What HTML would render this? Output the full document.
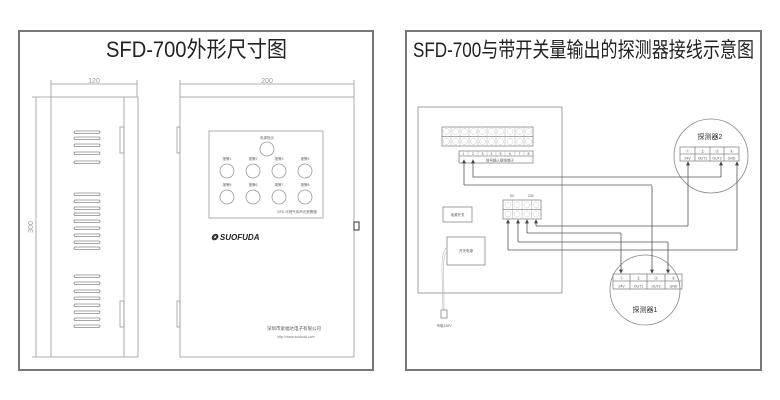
<!DOCTYPE html>
<html><head><meta charset="utf-8"><style>
html,body{margin:0;padding:0;background:#fff;width:780px;height:400px;overflow:hidden}
svg{display:block}
text{font-family:"Liberation Sans","Noto Sans CJK SC",sans-serif}
</style></head><body>
<svg width="780" height="400" viewBox="0 0 780 400" xmlns="http://www.w3.org/2000/svg">
<defs>
<marker id="ar" viewBox="0 0 6 6" refX="5" refY="3" markerWidth="5" markerHeight="5" orient="auto"><path d="M0,0 L6,3 L0,6z" fill="#444"/></marker>
</defs>
<g fill="none" stroke="#777" stroke-width="2">
<rect x="19" y="31" width="354" height="339"/>
<rect x="406" y="31" width="355" height="339"/>
</g>
<text x="106" y="57" font-size="22" textLength="181" lengthAdjust="spacingAndGlyphs" fill="#222">SFD-700外形尺寸图</text>
<text x="413" y="57" font-size="21" textLength="341" lengthAdjust="spacingAndGlyphs" fill="#222">SFD-700与带开关量输出的探测器接线示意图</text>

<!-- LEFT -->
<g stroke="#999" stroke-width="0.8" fill="none">
<line x1="51" y1="84" x2="137" y2="84"/><line x1="51" y1="80" x2="51" y2="97"/><line x1="137" y1="80" x2="137" y2="97"/>
<line x1="180" y1="84" x2="354" y2="84"/><line x1="180" y1="80" x2="180" y2="97"/><line x1="354" y1="80" x2="354" y2="97"/>
<line x1="36" y1="97" x2="36" y2="357"/><line x1="32" y1="97" x2="51" y2="97"/><line x1="32" y1="357" x2="51" y2="357"/>
<rect x="51" y="97" width="87" height="260"/>
<line x1="124" y1="97" x2="124" y2="357"/>
<rect x="120" y="127" width="4" height="26"/><rect x="120" y="301" width="4" height="26"/>
<rect x="180" y="97" width="174" height="260"/>
<rect x="177" y="127" width="3" height="26"/><rect x="177" y="301" width="3" height="26"/>
<rect x="209" y="131" width="114" height="87"/>
<circle cx="267" cy="149" r="7"/>
<circle cx="227" cy="171" r="7"/><circle cx="253" cy="171" r="7"/><circle cx="279" cy="171" r="7"/><circle cx="305" cy="171" r="7"/>
<circle cx="227" cy="197" r="7"/><circle cx="253" cy="197" r="7"/><circle cx="279" cy="197" r="7"/><circle cx="305" cy="197" r="7"/>
</g>
<rect x="354" y="222" width="5" height="8" fill="none" stroke="#333" stroke-width="1"/>
<g fill="none" stroke="#888" stroke-width="0.8">
<rect x="74" y="131" width="26" height="2.5" rx="1.2"/><rect x="74" y="137" width="26" height="2.5" rx="1.2"/><rect x="74" y="144" width="26" height="2.5" rx="1.2"/><rect x="74" y="152" width="26" height="2.5" rx="1.2"/><rect x="74" y="161" width="26" height="2.5" rx="1.2"/>
<rect x="74" y="193" width="26" height="2.5" rx="1.2"/><rect x="74" y="200" width="26" height="2.5" rx="1.2"/><rect x="74" y="207" width="26" height="2.5" rx="1.2"/><rect x="74" y="213" width="26" height="2.5" rx="1.2"/><rect x="74" y="220" width="26" height="2.5" rx="1.2"/><rect x="74" y="227" width="26" height="2.5" rx="1.2"/><rect x="74" y="234" width="26" height="2.5" rx="1.2"/><rect x="74" y="241" width="26" height="2.5" rx="1.2"/><rect x="74" y="247" width="26" height="2.5" rx="1.2"/>
<rect x="74" y="275" width="26" height="2.5" rx="1.2"/><rect x="74" y="282" width="26" height="2.5" rx="1.2"/><rect x="74" y="290" width="26" height="2.5" rx="1.2"/><rect x="74" y="297" width="26" height="2.5" rx="1.2"/><rect x="74" y="304" width="26" height="2.5" rx="1.2"/><rect x="74" y="311" width="26" height="2.5" rx="1.2"/><rect x="74" y="318" width="26" height="2.5" rx="1.2"/><rect x="74" y="325" width="26" height="2.5" rx="1.2"/>
</g>
<g font-size="7" fill="#999" text-anchor="middle">
<text x="94" y="83">120</text><text x="267" y="83">200</text>
<text x="33" y="227" transform="rotate(-90 33 227)">300</text>
</g>
<g font-size="3.5" fill="#666" text-anchor="middle">
<text x="267" y="139">电源指示</text>
<text x="227" y="160">报警1</text><text x="253" y="160">报警2</text><text x="279" y="160">报警3</text><text x="305" y="160">报警4</text>
<text x="227" y="186">报警5</text><text x="253" y="186">报警6</text><text x="279" y="186">报警7</text><text x="305" y="186">报警8</text>
<text x="297" y="213">SFD 可燃气体声光报警器</text>
</g>
<text x="211" y="240" font-size="8" font-weight="bold" font-style="italic" fill="#222">❂ SUOFUDA</text>
<text x="294" y="330" font-size="4.5" fill="#555" text-anchor="middle">深圳市索福达电子有限公司</text>
<text x="296" y="338" font-size="3.5" fill="#777" text-anchor="middle">http://www.suofuda.com</text>

<!-- RIGHT -->
<g stroke="#888" stroke-width="0.8" fill="none">
<rect x="418" y="107" width="144" height="186"/>
<rect x="442" y="127" width="91" height="19"/>
<line x1="442" y1="136.5" x2="533" y2="136.5"/>
<rect x="459" y="151" width="74" height="12"/>
<line x1="459" y1="156" x2="533" y2="156"/>
<rect x="503" y="200" width="38" height="19"/>
<line x1="503" y1="209.5" x2="541" y2="209.5"/>
<rect x="443" y="207" width="29" height="15"/>
<rect x="447" y="237" width="38" height="28"/>
<circle cx="711" cy="156" r="37" fill="#fff"/>
<rect x="680" y="147" width="59" height="14"/><line x1="680" y1="154" x2="739" y2="154"/>
<line x1="695" y1="147" x2="695" y2="161"/><line x1="710" y1="147" x2="710" y2="161"/><line x1="724" y1="147" x2="724" y2="161"/>
<circle cx="645" cy="290" r="35" fill="#fff"/>
<rect x="613" y="274" width="69" height="15"/><line x1="613" y1="281" x2="682" y2="281"/>
<line x1="630" y1="274" x2="630" y2="289"/><line x1="647" y1="274" x2="647" y2="289"/><line x1="665" y1="274" x2="665" y2="289"/>
<rect x="441" y="310" width="6" height="8"/>
</g>
<g stroke="#aaa" stroke-width="0.5" fill="none">
<path d="M451,127v19M460,127v19M469,127v19M478,127v19M487,127v19M496,127v19M505,127v19M515,127v19M524,127v19"/>
<path d="M468,151v5M478,151v5M487,151v5M496,151v5M505,151v5M515,151v5M524,151v5"/>
<path d="M512.5,200v19M522,200v19M531.5,200v19"/>
<path d="M447,247 C440,255 442,265 443,310 M447,251 C442,258 444,266 444,310"/>
</g>
<g stroke="#bbb" stroke-width="0.4" fill="none">
<circle cx="446.5" cy="131.5" r="3"/><circle cx="455.5" cy="131.5" r="3"/><circle cx="464.5" cy="131.5" r="3"/><circle cx="473.5" cy="131.5" r="3"/><circle cx="482.5" cy="131.5" r="3"/><circle cx="491.5" cy="131.5" r="3"/><circle cx="500.5" cy="131.5" r="3"/><circle cx="510" cy="131.5" r="3"/><circle cx="519.5" cy="131.5" r="3"/><circle cx="528.5" cy="131.5" r="3"/>
<circle cx="446.5" cy="141.5" r="3"/><circle cx="455.5" cy="141.5" r="3"/><circle cx="464.5" cy="141.5" r="3"/><circle cx="473.5" cy="141.5" r="3"/><circle cx="482.5" cy="141.5" r="3"/><circle cx="491.5" cy="141.5" r="3"/><circle cx="500.5" cy="141.5" r="3"/><circle cx="510" cy="141.5" r="3"/><circle cx="519.5" cy="141.5" r="3"/><circle cx="528.5" cy="141.5" r="3"/>
<circle cx="508" cy="205" r="3"/><circle cx="517" cy="205" r="3"/><circle cx="527" cy="205" r="3"/><circle cx="536" cy="205" r="3"/>
<circle cx="508" cy="214" r="3"/><circle cx="517" cy="214" r="3"/><circle cx="527" cy="214" r="3"/><circle cx="536" cy="214" r="3"/>
</g>
<g stroke="#555" stroke-width="0.8" fill="none" marker-end="url(#ar)">
<path d="M464,185 V160"/>
<path d="M473,175 V160"/>
<path d="M652,186 V273"/>
<path d="M721,177 V162"/>
<path d="M688,226 V162"/>
<path d="M621,233 V273"/>
<path d="M668,242 V273"/>
<path d="M737,250 V162"/>
<path d="M508,250 V220"/>
<path d="M518,242 V220"/>
<path d="M527,233 V220"/>
<path d="M536,226 V220"/>
</g>
<g stroke="#555" stroke-width="0.8" fill="none">
<path d="M464,185 H652"/>
<path d="M473,175 V177 H721"/>
<path d="M536,226 H688"/>
<path d="M527,233 H621"/>
<path d="M518,242 H668"/>
<path d="M508,250 H737"/>
</g>
<g font-size="3.5" fill="#555" text-anchor="middle">
<text x="463.5" y="155">1</text><text x="473" y="155">2</text><text x="482.5" y="155">3</text><text x="491.5" y="155">4</text><text x="500.5" y="155">5</text><text x="510" y="155">6</text><text x="519.5" y="155">7</text><text x="528.5" y="155">8</text>
<text x="500" y="161.5">信号输入接线端子</text>
<text x="512" y="197">0V</text><text x="531" y="197">24V</text>
<text x="457.5" y="216">电源开关</text>
<text x="466" y="252">开关电源</text>
<text x="444" y="327">市电220V</text>
<text x="687.5" y="159.5">24V</text><text x="702.5" y="159.5">OUT1</text><text x="717" y="159.5">OUT2</text><text x="731.5" y="159.5">GND</text>
<text x="621.5" y="287.5">24V</text><text x="638.5" y="287.5">OUT1</text><text x="656" y="287.5">OUT2</text><text x="673.5" y="287.5">GND</text>
<text x="687.5" y="152.5">①</text><text x="702.5" y="152.5">②</text><text x="717" y="152.5">③</text><text x="731.5" y="152.5">④</text>
<text x="621.5" y="279.5">①</text><text x="638.5" y="279.5">②</text><text x="656" y="279.5">③</text><text x="673.5" y="279.5">④</text>
</g>
<text x="710" y="139" font-size="7" fill="#333" text-anchor="middle">探测器2</text>
<text x="645" y="312" font-size="7" fill="#333" text-anchor="middle">探测器1</text>
</svg>
</body></html>
